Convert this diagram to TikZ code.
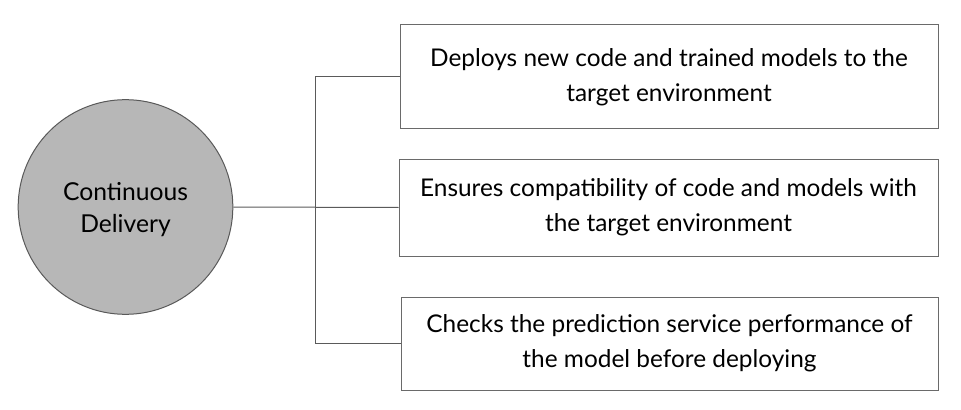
\documentclass[tikz,border=0pt]{standalone}
\usepackage{fontspec}
\setmainfont{Lato}
\definecolor{circfill}{HTML}{B7B7B7}
\definecolor{circline}{HTML}{595959}
\definecolor{boxline}{HTML}{6A6A6A}
\definecolor{conline}{HTML}{5A5A5A}
\begin{document}
\begin{tikzpicture}[x=0.75pt,y=-0.75pt,
  hub/.style={circle,draw=circline,fill=circfill,line width=0.75pt,minimum size=161pt,inner sep=0pt},
  hubtext/.style={align=center,inner sep=0pt,yshift=-2.2pt,font=\fontsize{18.5}{24}\selectfont},
  itembox/.style={rectangle,draw=boxline,line width=0.75pt,inner sep=0pt,align=center,font=\fontsize{18.3}{26.5}\selectfont},
  conn/.style={draw=conline,line width=0.75pt}]
\useasboundingbox (0,0) rectangle (961,410);
\node[hub,label={[hubtext]center:Continuous\\Delivery}] (cd) at (125.5,207) {};
\node[itembox,minimum width=403.5pt,minimum height=78pt] (b1) at (669,77) {Deploys new code and trained models to the\\target environment};
\node[itembox,minimum width=404.25pt,minimum height=72.75pt] (b2) at (668.5,207.5) {Ensures compatibility of code and models with\\the target environment};
\node[itembox,minimum width=402.75pt,minimum height=69.75pt] (b3) at (669.5,343.5) {Checks the prediction service performance of\\the model before deploying};
\coordinate (j) at (315.5,207);
\draw[conn] (cd.east) -- (b2.west);
\draw[conn] (b1.west) -| (j) |- (b3.west);
\end{tikzpicture}
\end{document}
